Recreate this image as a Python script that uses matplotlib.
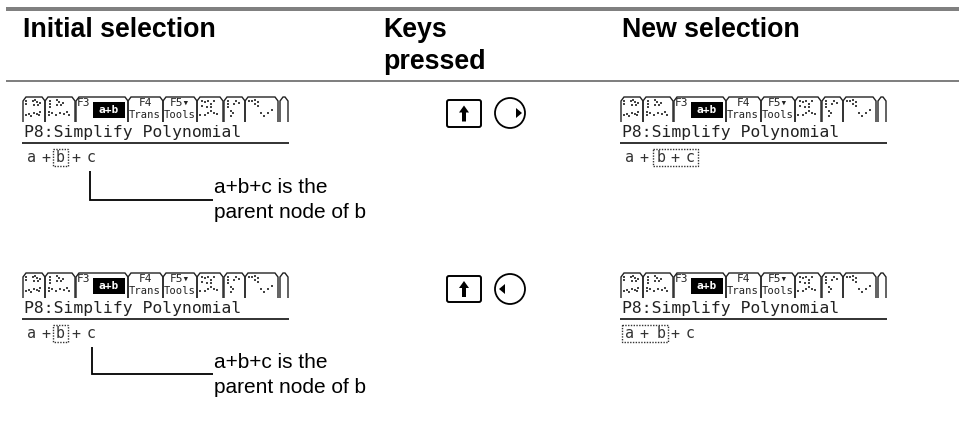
import matplotlib
matplotlib.use("Agg")
import matplotlib.pyplot as plt
from matplotlib.patches import Polygon, Rectangle, FancyBboxPatch, Circle

W, H = 959, 433
RULE_GREY = "#808080"
headers = ["Initial selection", "Keys\npressed", "New selection"]
screen_title = "P8:Simplify Polynomial"
note_lines = ["a+b+c is the", "parent node of b"]
expr_tokens = ["a", "+", "b", "+", "c"]

# tab outlines, relative to the toolbar's left edge
tab_edges = [(0, 22), (22, 52), (53, 105), (105, 140), (140, 174), (174, 200), (201, 222), (222, 255), (257, 265)]
ghost_dots = [(3,4),(3,7),(10,4),(12,3),(14,5),(11,8),(15,8),(17,6),(3,18),(6,17),(8,19),(11,16),(14,17),(17,15),(16,18),
              (27,4),(27,7),(27,10),(34,3),(36,5),(34,8),(38,8),(40,6),(26,15),(26,18),(29,16),(33,18),(37,16),(41,17),(44,15),(46,18),
              (179,4),(182,5),(185,4),(188,7),(191,4),(179,9),(184,10),(188,10),(177,18),(182,18),(185,16),(188,14),(191,16),(194,17),
              (205,4),(205,7),(205,10),(211,7),(213,4),(216,6),(208,14),(210,16),(208,19),
              (226,4),(229,4),(232,3),(232,7),(235,5),(235,9),(238,16),(241,19),(245,16),(249,13)]

rows = [
    dict(top=97, note=193, stem=(90, 171, 200), expr=158, box_left=(53, 68, 149, 166),
         box_right=(653, 698, 149, 166), key=(446, 482, 99, 128), circle=113, dir="right"),
    dict(top=273, note=368, stem=(91.5, 347, 374), expr=334, box_left=(53, 68, 325, 342),
         box_right=(622, 668, 325, 342), key=(446, 482, 275, 303), circle=289, dir="left"),
]
left_x = 23
right_x = 621
left_tokens_x = [31, 46, 60, 76, 91]
right_tokens_x = [630, 644, 661, 675, 690]

fig = plt.figure(figsize=(W / 100, H / 100), dpi=100)
ax = fig.add_axes([0, 0, 1, 1])
ax.set_xlim(0, W)
ax.set_ylim(H, 0)
ax.axis("off")

SANS = "Liberation Sans"
MONO = "DejaVu Sans Mono"
px = 72 / 100
HEAD = 26.8 * px
NOTE = 20.9 * px

ax.add_patch(Rectangle((6, 7), W - 6, 4, fc=RULE_GREY, ec="none"))
ax.add_patch(Rectangle((6, 79.5), W - 6, 2, fc=RULE_GREY, ec="none"))
ax.text(23, 37, headers[0], family=SANS, weight="bold", fontsize=HEAD, va="baseline", color="black")
ax.text(383, 37, headers[1].split("\n")[0], family=SANS, weight="bold", fontsize=HEAD, va="baseline", color="black")
ax.text(383, 69, headers[1].split("\n")[1], family=SANS, weight="bold", fontsize=HEAD, va="baseline", color="black")
ax.text(622, 37, headers[2], family=SANS, weight="bold", fontsize=HEAD, va="baseline", color="black")


def toolbar(x0, y0):
    for a, b in tab_edges:
        pts = [(x0 + a, y0 + 25), (x0 + a, y0 + 4), (x0 + a + 3, y0), (x0 + b - 3, y0), (x0 + b, y0 + 4), (x0 + b, y0 + 25)]
        ax.add_patch(Polygon(pts, closed=False, fc="none", ec="#222222", lw=1.0))
    ax.scatter([x0 + d[0] for d in ghost_dots], [y0 + d[1] for d in ghost_dots], s=1.8, c="#444444", marker="s", linewidths=0)
    ax.text(x0 + 61, y0 + 6.5, "F3", family=MONO, fontsize=8, ha="center", va="center", color="#222222")
    ax.add_patch(Rectangle((x0 + 70, y0 + 5), 32, 16, fc="black", ec="none"))
    ax.text(x0 + 86, y0 + 13, "a+b", family=MONO, fontsize=8, weight="bold", ha="center", va="center", color="white")
    ax.text(x0 + 122, y0 + 6.5, "F4", family=MONO, fontsize=8, ha="center", va="center", color="#222222")
    ax.text(x0 + 122, y0 + 18, "Trans", family=MONO, fontsize=7.6, ha="center", va="center", color="#222222")
    ax.text(x0 + 157, y0 + 6.5, "F5▾", family=MONO, fontsize=8, ha="center", va="center", color="#222222")
    ax.text(x0 + 157, y0 + 18, "Tools", family=MONO, fontsize=7.6, ha="center", va="center", color="#222222")
    ax.text(x0 + 0.5, y0 + 39.5, screen_title, family=MONO, fontsize=16.4 * px, ha="left", va="baseline", color="#222222")
    ax.plot([x0 - 1, x0 + 266], [y0 + 46, y0 + 46], color="#222222", lw=1.3, solid_capstyle="butt")


def expr(xs, y, box):
    for x, t in zip(xs, expr_tokens):
        ax.text(x, y, t, family=MONO, fontsize=15 * px, ha="center", va="center", color="#333333")
    x0, x1, y0, y1 = box
    ax.add_patch(Rectangle((x0, y0), x1 - x0, y1 - y0, fc="none", ec="#333333", lw=1.0, ls=(0, (1, 1))))


for r in rows:
    toolbar(left_x, r["top"])
    toolbar(right_x, r["top"])
    expr(left_tokens_x, r["expr"], r["box_left"])
    expr(right_tokens_x, r["expr"], r["box_right"])
    sx, sy0, sy1 = r["stem"]
    ax.plot([sx, sx, 213], [sy0, sy1, sy1], color="black", lw=1.3, solid_joinstyle="miter", solid_capstyle="butt")
    ax.text(214, r["note"], note_lines[0], family=SANS, fontsize=NOTE, va="baseline", color="black")
    ax.text(214, r["note"] + 25, note_lines[1], family=SANS, fontsize=NOTE, va="baseline", color="black")
    x0, x1, y0, y1 = r["key"]
    ax.add_patch(FancyBboxPatch((x0 + 1, y0 + 1), x1 - x0 - 2, y1 - y0 - 2, boxstyle="round,pad=0,rounding_size=2",
                                fc="none", ec="black", lw=1.4))
    cx, cy = (x0 + x1) / 2, (y0 + y1) / 2
    ax.add_patch(Polygon([(cx, cy - 8), (cx + 5, cy - 1), (cx + 2, cy - 1), (cx + 2, cy + 8),
                          (cx - 2, cy + 8), (cx - 2, cy - 1), (cx - 5, cy - 1)], fc="black", ec="none"))
    yc = r["circle"]
    ax.add_patch(Circle((510, yc), 15, fc="none", ec="black", lw=1.3))
    if r["dir"] == "right":
        ax.add_patch(Polygon([(516, yc - 5), (522, yc), (516, yc + 5)], fc="black", ec="none"))
    else:
        ax.add_patch(Polygon([(505, yc - 5), (499, yc), (505, yc + 5)], fc="black", ec="none"))

fig.savefig("out.png", dpi=100, facecolor="white")
